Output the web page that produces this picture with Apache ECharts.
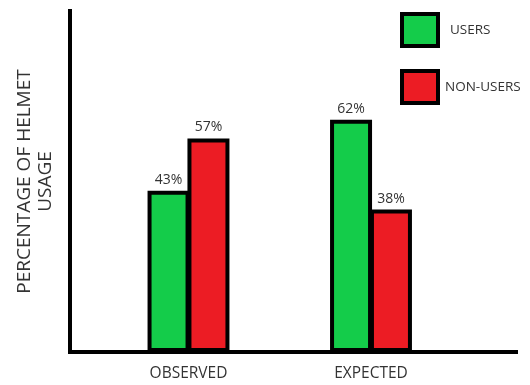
<!DOCTYPE html>
<html>
<head>
<meta charset="utf-8">
<script src="https://cdn.jsdelivr.net/npm/echarts@6/dist/echarts.min.js"></script>
<style>html,body{margin:0;padding:0;background:#fff;}#c{width:530px;height:385px;}</style>
</head>
<body>
<div id="c"></div>
<script>
var categories = ['OBSERVED', 'EXPECTED'];
var seriesNames = ['USERS', 'NON-USERS'];
var usersValues = [43, 62];
var nonUsersValues = [57, 38];
var yTitle = 'PERCENTAGE OF HELMET\nUSAGE';

var FONT = 'Open Sans';
var chart = echarts.init(document.getElementById('c'), null, {renderer: 'canvas'});
var barStyle = function (color) {
  return {color: color, borderColor: '#000', borderWidth: 4, borderRadius: 0, borderJoin: 'miter'};
};
var labelStyle = {show: true, position: 'top', distance: 4, formatter: '{c}%', fontSize: 14, color: '#333', fontFamily: FONT};
chart.setOption({
  animation: false,
  backgroundColor: '#fff',
  grid: [
    {left: 70, right: 14, top: 11, bottom: 33},
    {left: 97.25, width: 365, top: 11, bottom: 33}
  ],
  xAxis: [
    {gridIndex: 0, type: 'category', data: [''],
     axisLine: {show: true, lineStyle: {color: '#000', width: 4, cap: 'square'}},
     axisTick: {show: false}, axisLabel: {show: false}, splitLine: {show: false}},
    {gridIndex: 1, type: 'category', data: categories,
     axisLine: {show: false}, axisTick: {show: false},
     axisLabel: {show: true, margin: 14, fontSize: 15.5, color: '#333', fontFamily: FONT}}
  ],
  yAxis: [
    {gridIndex: 0, type: 'value', min: 0, max: 91,
     axisLine: {show: true, lineStyle: {color: '#000', width: 4, cap: 'square'}},
     axisTick: {show: false}, axisLabel: {show: false}, splitLine: {show: false},
     name: yTitle, nameLocation: 'middle', nameRotate: 90, nameGap: 14,
     nameTextStyle: {fontSize: 19, color: '#333', fontFamily: FONT, lineHeight: 21, align: 'center'}},
    {gridIndex: 1, type: 'value', min: 0, max: 91, show: false}
  ],
  legend: {
    orient: 'vertical', left: 400, top: 12, padding: 0,
    icon: 'rect',
    itemWidth: 36, itemHeight: 32, itemGap: 21,
    data: seriesNames,
    itemStyle: {borderColor: '#000', borderWidth: 4, borderJoin: 'miter'},
    textStyle: {fontSize: 13.5, color: '#333', fontFamily: FONT,
      rich: {
        u: {fontSize: 13.5, color: '#333', fontFamily: FONT, padding: [0, 0, 0, 7]},
        n: {fontSize: 13.5, color: '#333', fontFamily: FONT, padding: [0, 0, 0, 2]}
      }},
    formatter: function (name) {
      return name === seriesNames[0] ? '{u|' + name + '}' : '{n|' + name + '}';
    }
  },
  series: [
    {name: seriesNames[0], type: 'bar', xAxisIndex: 1, yAxisIndex: 1, data: usersValues,
     barWidth: 42, barGap: '-5%', itemStyle: barStyle('#14CC4A'), label: labelStyle},
    {name: seriesNames[1], type: 'bar', xAxisIndex: 1, yAxisIndex: 1, data: nonUsersValues,
     barWidth: 42, barGap: '-5%', itemStyle: barStyle('#EC1C24'), label: labelStyle}
  ]
});
</script>
</body>
</html>
